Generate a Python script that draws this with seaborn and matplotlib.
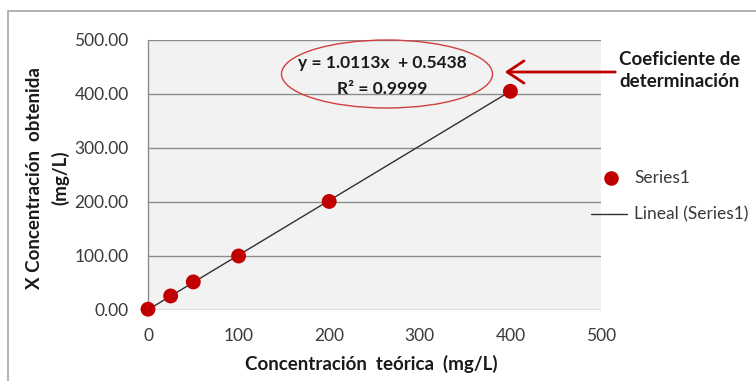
import numpy as np
import pandas as pd
import matplotlib
matplotlib.use("Agg")
import matplotlib.pyplot as plt
from matplotlib.patches import Ellipse, Rectangle, FancyArrowPatch
from matplotlib.lines import Line2D
import seaborn as sns

# Calibration data
conc_teorica = [0, 25, 50, 100, 200, 400]
conc_obtenida = [1.5, 26.0, 52.0, 100.0, 201.0, 405.0]

# Linear trend reported on the chart
slope = 1.0113
intercept = 0.5438
r2 = 0.9999

x_ticks = [0, 100, 200, 300, 400, 500]
y_ticks = [0, 100, 200, 300, 400, 500]

sns.set_theme(style="white")
plt.rcParams["font.family"] = ["Lato", "DejaVu Sans"]

W, H = 756, 381
fig = plt.figure(figsize=(W / 100, H / 100), dpi=100)

def fx(px):
    return px / W

def fy(py):
    return 1 - py / H

TXT = "#1a1a1a"
TICK = "#3a3a3a"

# outer chart border
fig.patches.append(Rectangle((fx(8), fy(400)), fx(760) - fx(8), fy(11) - fy(400),
                             transform=fig.transFigure, fill=False,
                             edgecolor="#a6a6a6", linewidth=1.2))

ax = fig.add_axes([fx(148), fy(310), fx(601) - fx(148), fy(40) - fy(310)])
ax.set_facecolor("#f2f2f2")

df = pd.DataFrame({"teorica": conc_teorica, "obtenida": conc_obtenida})
trend = pd.DataFrame({"x": [min(conc_teorica), max(conc_teorica)]})
trend["y"] = slope * trend["x"] + intercept

ax.set_xlim(0, 500)
ax.set_ylim(0, 500)
ax.set_yticks(y_ticks)
ax.set_xticks(x_ticks)
ax.yaxis.grid(True, color="#8c8c8c", linewidth=1.0)
ax.set_axisbelow(True)

sns.lineplot(data=trend, x="x", y="y", ax=ax, color="#303030", linewidth=1.0,
             zorder=2, legend=False)
sns.scatterplot(data=df, x="teorica", y="obtenida", ax=ax, color="#c00000",
                s=115, edgecolor="none", zorder=3, clip_on=False, legend=False)

ax.set_yticklabels([f"{v:.2f}" for v in y_ticks])
ax.set_xticklabels([str(v) for v in x_ticks])
ax.tick_params(axis="both", length=0, labelsize=12.5, colors=TICK)
ax.tick_params(axis="y", pad=14)
ax.tick_params(axis="x", pad=13)

for side in ["top", "right", "bottom"]:
    ax.spines[side].set_visible(False)
ax.spines["left"].set_color("#8c8c8c")
ax.spines["left"].set_linewidth(1.0)
ax.set_xlabel("")
ax.set_ylabel("")

# axis titles
fig.text(fx(371), fy(364), "Concentración  teórica  (mg/L)", ha="center",
         va="center", fontsize=13.5, fontweight="bold", color=TXT)
fig.text(fx(35), fy(178), "X Concentración  obtenida", ha="center", va="center",
         rotation=90, fontsize=13.5, fontweight="bold", color=TXT)
fig.text(fx(60), fy(178), "(mg/L)", ha="center", va="center", rotation=90,
         fontsize=13.5, fontweight="bold", color=TXT)

# trendline equation inside a red ellipse
fig.patches.append(Ellipse((fx(387), fy(74)), fx(211), 68 / H,
                           transform=fig.transFigure, fill=False,
                           edgecolor="#d04040", linewidth=1.0))
fig.text(fx(382), fy(63), f"y = {slope:.4f}x  + {intercept:.4f}", ha="center",
         va="center", fontsize=12.5, fontweight="bold", color=TXT)
fig.text(fx(382), fy(89), f"R² = {r2:.4f}", ha="center", va="center",
         fontsize=12.5, fontweight="bold", color=TXT)

# callout arrow
fig.patches.append(FancyArrowPatch((fx(618), fy(72)), (fx(502), fy(72)),
                                   transform=fig.transFigure,
                                   arrowstyle="->,head_length=6,head_width=4",
                                   color="#c00000", linewidth=2.0,
                                   mutation_scale=2))
fig.text(fx(680), fy(70.5), "Coeficiente de\ndeterminación", ha="center",
         va="center", fontsize=13.5, fontweight="bold", color=TXT,
         linespacing=1.35)

# legend
fig.add_artist(Line2D([fx(611)], [fy(178)], marker="o", markersize=10.5,
                      color="#c00000", markeredgecolor="none",
                      transform=fig.transFigure))
fig.text(fx(634), fy(178), "Series1", ha="left", va="center", fontsize=12.5,
         color=TICK)
fig.add_artist(Line2D([fx(591), fx(627)], [fy(214), fy(214)], color="#303030",
                      linewidth=1.0, transform=fig.transFigure))
fig.text(fx(634), fy(214), "Lineal (Series1)", ha="left", va="center",
         fontsize=12.5, color=TICK)

fig.savefig("out.png", dpi=100)
